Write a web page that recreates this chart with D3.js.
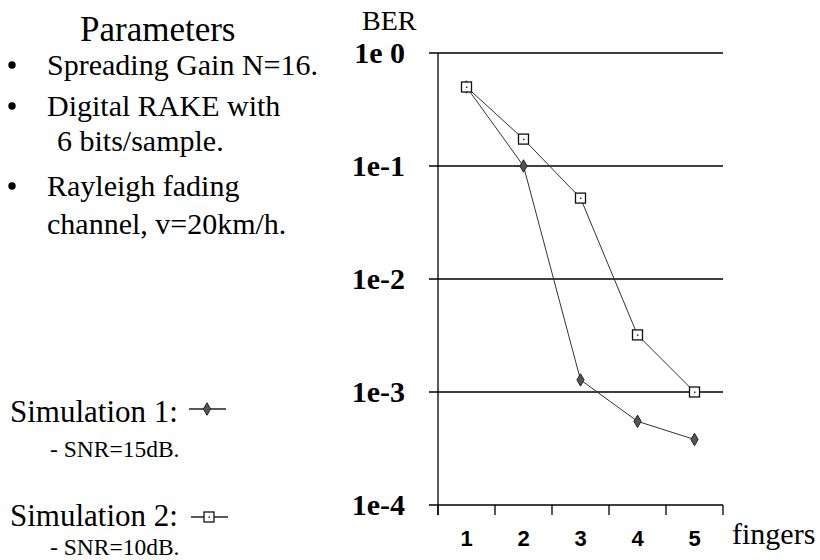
<!DOCTYPE html>
<meta charset="utf-8">
<style>
    body { margin: 0; background: #fff; }
    svg { display: block; }
    .serif { font-family: "Liberation Serif", "Times New Roman", serif; fill: #000; }
    .grid line { stroke: #000; stroke-width: 1.3; }
    .xlab { font-family: "Liberation Sans", Arial, sans-serif; font-weight: bold; font-size: 22px; }
</style>
<body>
<script src="https://d3js.org/d3.v7.min.js"></script>
<script>
    var fingers = [1, 2, 3, 4, 5];
    var sim1 = [0.5, 0.1, 0.00128, 0.00055, 0.00038];
    var sim2 = [0.5, 0.173, 0.052, 0.0032, 0.001];
    var yTicks = [1, 0.1, 0.01, 0.001, 0.0001];
    var yTickLabels = ["1e 0", "1e-1", "1e-2", "1e-3", "1e-4"];

    var params = [
        { text: "Spreading Gain N=16.", bullet: true, y: 75, x: 47 },
        { text: "Digital RAKE with", bullet: true, y: 116, x: 47 },
        { text: "6 bits/sample.", bullet: false, y: 151, x: 57 },
        { text: "Rayleigh fading", bullet: true, y: 196, x: 47 },
        { text: "channel, v=20km/h.", bullet: false, y: 234, x: 47 }
    ];

    var svg = d3.select("body").append("svg")
        .attr("width", 820)
        .attr("height", 560);

    var x = d3.scaleBand().domain(fingers).range([438, 723]);
    var y = d3.scaleLog().domain([1e-4, 1]).range([505, 53]);

    // left text block
    svg.append("text").attr("class", "serif")
        .attr("x", 80).attr("y", 41)
        .style("font-size", "35px")
        .text("Parameters");

    var p = svg.selectAll(".param").data(params).enter().append("g").attr("class", "param");
    p.append("text").attr("class", "serif")
        .attr("x", d => d.x).attr("y", d => d.y)
        .style("font-size", "30px")
        .text(d => d.text);
    p.filter(d => d.bullet).append("circle")
        .attr("cx", 12).attr("cy", d => d.y - 10).attr("r", 3.7)
        .attr("fill", "#000");

    svg.append("text").attr("class", "serif")
        .attr("x", 10).attr("y", 422).style("font-size", "31px")
        .text("Simulation 1:");
    svg.append("text").attr("class", "serif")
        .attr("x", 50).attr("y", 457).style("font-size", "23.5px")
        .text("- SNR=15dB.");
    svg.append("text").attr("class", "serif")
        .attr("x", 10).attr("y", 526).style("font-size", "31px")
        .text("Simulation 2:");
    svg.append("text").attr("class", "serif")
        .attr("x", 50).attr("y", 555).style("font-size", "23.5px")
        .text("- SNR=10dB.");

    // gridlines
    var grid = svg.append("g").attr("class", "grid");
    grid.selectAll("line").data(yTicks).enter().append("line")
        .attr("x1", 429).attr("x2", 723)
        .attr("y1", d => y(d)).attr("y2", d => y(d));

    // y axis line
    svg.append("line")
        .attr("x1", 438).attr("x2", 438)
        .attr("y1", y(1)).attr("y2", y(1e-4) + 10)
        .attr("stroke", "#000").attr("stroke-width", 1.3);

    // x ticks at band edges
    var edges = fingers.map(f => x(f)).concat([x.range()[1]]);
    svg.selectAll(".xtick").data(edges).enter().append("line")
        .attr("x1", d => d).attr("x2", d => d)
        .attr("y1", y(1e-4)).attr("y2", y(1e-4) + 10)
        .attr("stroke", "#000").attr("stroke-width", 1.3);

    svg.selectAll(".ylab").data(yTicks).enter().append("text")
        .attr("class", "serif")
        .attr("x", 405).attr("y", d => y(d) + 10)
        .attr("text-anchor", "end")
        .style("font-size", "30px").style("font-weight", "bold")
        .text((d, i) => yTickLabels[i]);

    svg.selectAll(".xlab").data(fingers).enter().append("text")
        .attr("class", "xlab")
        .attr("x", d => x(d) + x.bandwidth() / 2)
        .attr("y", 546)
        .attr("text-anchor", "middle")
        .text(d => d);

    svg.append("text").attr("class", "serif")
        .attr("x", 732).attr("y", 544).style("font-size", "30px")
        .text("fingers");
    svg.append("text").attr("class", "serif")
        .attr("x", 362).attr("y", 30).style("font-size", "28px")
        .text("BER");

    // series
    var line = d3.line()
        .x((d, i) => x(fingers[i]) + x.bandwidth() / 2)
        .y(d => y(d));

    svg.append("path").attr("d", line(sim2))
        .attr("fill", "none").attr("stroke", "#333").attr("stroke-width", 1);
    svg.append("path").attr("d", line(sim1))
        .attr("fill", "none").attr("stroke", "#333").attr("stroke-width", 1);

    function diamond(g, cx, cy) {
        g.append("path")
            .attr("d", d3.symbol().type(d3.symbolDiamond).size(45)())
            .attr("transform", "translate(" + cx + "," + cy + ")")
            .attr("fill", "#555").attr("stroke", "#222").attr("stroke-width", 1);
    }
    function square(g, cx, cy) {
        g.append("rect")
            .attr("x", cx - 5).attr("y", cy - 5)
            .attr("width", 10).attr("height", 10)
            .attr("fill", "#fff").attr("stroke", "#111").attr("stroke-width", 1.3);
        g.append("rect")
            .attr("x", cx - 0.5).attr("y", cy - 0.5)
            .attr("width", 1.5).attr("height", 1.5)
            .attr("fill", "#333");
    }

    var m1 = svg.append("g");
    sim1.forEach((v, i) => diamond(m1, x(fingers[i]) + x.bandwidth() / 2, y(v)));
    var m2 = svg.append("g");
    sim2.forEach((v, i) => square(m2, x(fingers[i]) + x.bandwidth() / 2, y(v)));

    // legend samples
    svg.append("line").attr("x1", 189).attr("x2", 226).attr("y1", 409).attr("y2", 409)
        .attr("stroke", "#222").attr("stroke-width", 1.3);
    diamond(svg, 207, 409);
    svg.append("line").attr("x1", 191).attr("x2", 228).attr("y1", 517).attr("y2", 517)
        .attr("stroke", "#222").attr("stroke-width", 1.3);
    square(svg, 209, 517);
</script>
</body>
